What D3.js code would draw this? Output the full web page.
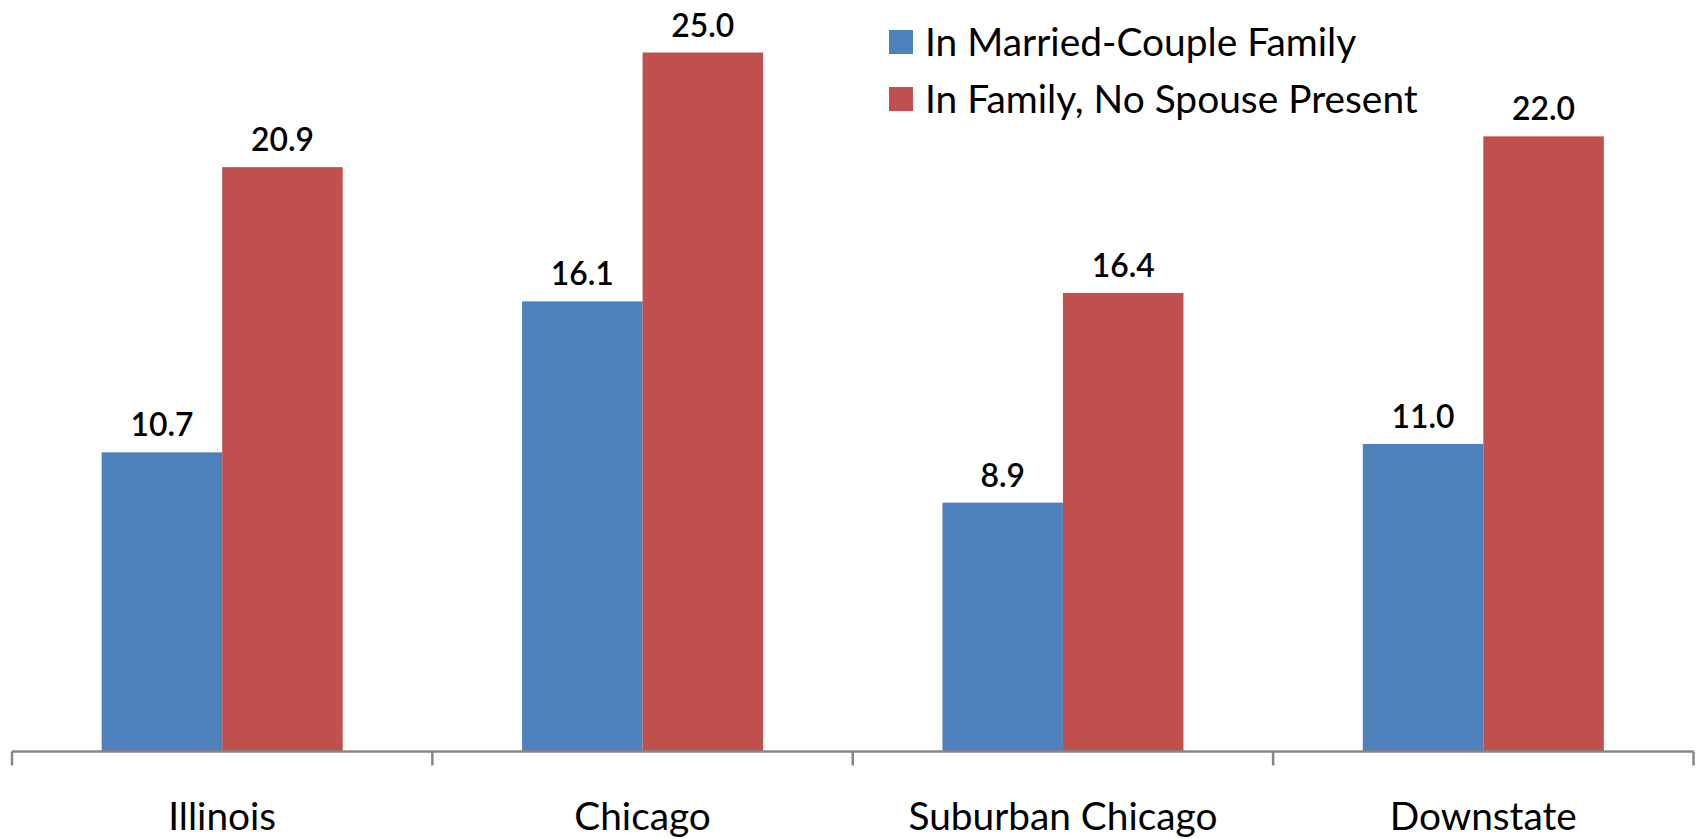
<!DOCTYPE html>
<html>
<head>
<meta charset="utf-8">
<script src="https://cdn.jsdelivr.net/npm/d3@7/dist/d3.min.js"></script>
<style>
  html, body { margin: 0; padding: 0; background: #fff; }
  svg { display: block; }
  text { font-family: Lato, "Open Sans", sans-serif; fill: #000; }
</style>
</head>
<body>
<svg id="chart" width="1700" height="839"></svg>
<script>
const categories = ["Illinois", "Chicago", "Suburban Chicago", "Downstate"];
const seriesNames = ["In Married-Couple Family", "In Family, No Spouse Present"];
const marriedValues = [10.7, 16.1, 8.9, 11.0];
const noSpouseValues = [20.9, 25.0, 16.4, 22.0];
const seriesColors = ["#4F81BD", "#C0504D"];

const seriesValues = [marriedValues, noSpouseValues];

const W = 1700, H = 839;
const svg = d3.select("#chart");

const baseline = 751.5;
const x = d3.scaleBand().domain(categories).range([12, 1693.5]).paddingInner(0).paddingOuter(0);
const xs = d3.scaleBand().domain(seriesNames).range([0, x.bandwidth()]).paddingInner(0).paddingOuter(0.744);
const y = d3.scaleLinear().domain([0, 25]).range([baseline, baseline - 25 * 27.96]);

// fit font size helper
function fitSize(str, targetWidth, weight) {
  const t = svg.append("text").attr("font-size", 100).attr("font-weight", weight || "normal").text(str);
  const w = t.node().getComputedTextLength();
  t.remove();
  return 100 * targetWidth / w;
}
const valueWeight = 600;
const valueSize = fitSize("20.9", 63, valueWeight);
const catSize = fitSize("Suburban Chicago", 309);
const legendSize = fitSize("In Family, No Spouse Present", 493);

const rows = categories.map((c, i) => ({ cat: c, vals: seriesNames.map((s, j) => ({ s, j, v: seriesValues[j][i] })) }));

const g = svg.append("g");
const groups = g.selectAll("g.cat").data(rows).join("g")
  .attr("transform", d => `translate(${x(d.cat)},0)`);

groups.selectAll("rect").data(d => d.vals).join("rect")
  .attr("x", d => xs(d.s))
  .attr("width", xs.bandwidth())
  .attr("y", d => y(d.v))
  .attr("height", d => y(0) - y(d.v))
  .attr("fill", d => seriesColors[d.j]);

groups.selectAll("text.val").data(d => d.vals).join("text")
  .attr("class", "val")
  .attr("x", d => xs(d.s) + xs.bandwidth() / 2)
  .attr("y", d => y(d.v) - 16)
  .attr("text-anchor", "middle")
  .attr("font-size", valueSize)
  .attr("font-weight", valueWeight)
  .text(d => d.v.toFixed(1));

// axis
const axisColor = "#878787";
svg.append("line")
  .attr("x1", x.range()[0]).attr("x2", x.range()[1])
  .attr("y1", baseline).attr("y2", baseline)
  .attr("stroke", axisColor).attr("stroke-width", 2.5);
const tickXs = categories.map(c => x(c)).concat([x.range()[1]]);
svg.selectAll("line.tick").data(tickXs).join("line")
  .attr("class", "tick")
  .attr("x1", d => d).attr("x2", d => d)
  .attr("y1", baseline).attr("y2", baseline + 14)
  .attr("stroke", axisColor).attr("stroke-width", 2.5);

svg.selectAll("text.cat").data(categories).join("text")
  .attr("class", "cat")
  .attr("x", d => x(d) + x.bandwidth() / 2)
  .attr("y", 830)
  .attr("text-anchor", "middle")
  .attr("font-size", catSize)
  .text(d => d);

// legend
const legend = svg.append("g").attr("transform", "translate(889,0)");
const li = legend.selectAll("g").data(seriesNames).join("g")
  .attr("transform", (d, i) => `translate(0,${42 + i * 57})`);
li.append("rect").attr("x", 0).attr("y", -12).attr("width", 24).attr("height", 24)
  .attr("fill", (d, i) => seriesColors[i]);
li.append("text").attr("x", 36).attr("y", 0).attr("dy", "0.35em")
  .attr("font-size", legendSize).text(d => d);
</script>
</body>
</html>
